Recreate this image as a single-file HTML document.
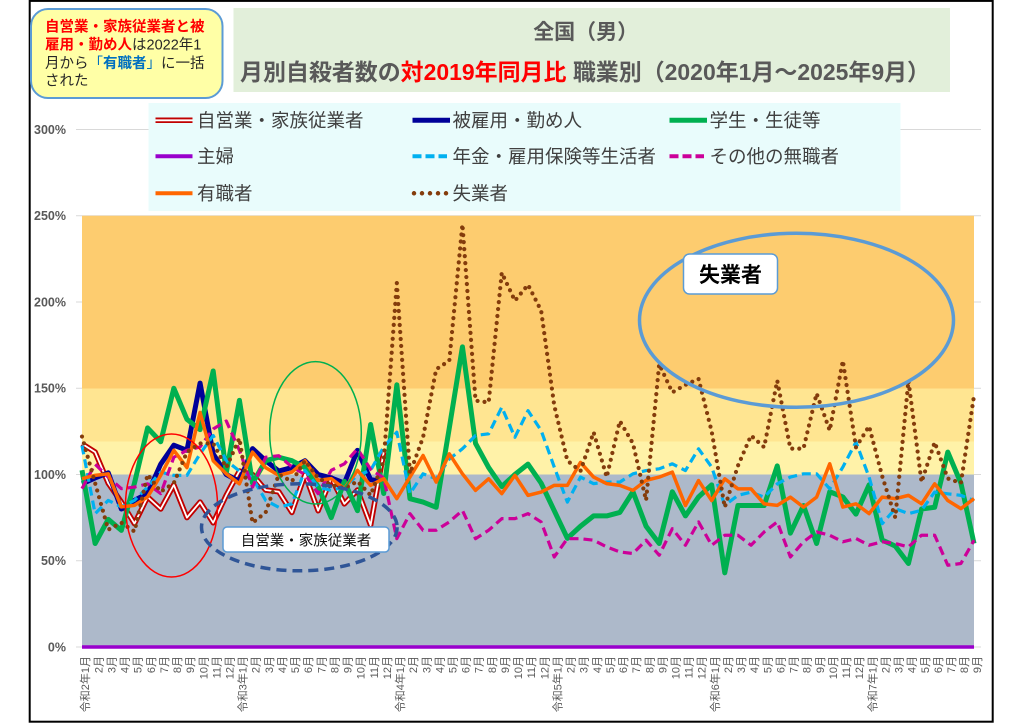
<!DOCTYPE html>
<html><head><meta charset="utf-8"><style>
html,body{margin:0;padding:0;background:#fff;}
svg{display:block;}
text{font-family:"Liberation Sans","Noto Sans CJK JP",sans-serif;}
</style></head><body>
<svg width="1024" height="724" viewBox="0 0 1024 724" xmlns="http://www.w3.org/2000/svg">
<rect x="0" y="0" width="1024" height="724" fill="#fff"/>
<rect x="29.7" y="0.9" width="963" height="720.8" fill="none" stroke="#000" stroke-width="2"/>

<!-- gridlines -->
<g stroke="#D9D9D9" stroke-width="1">
<line x1="76" x2="981" y1="129.5" y2="129.5"/>
<line x1="76" x2="981" y1="215.75" y2="215.75"/>
<line x1="76" x2="981" y1="302" y2="302"/>
<line x1="76" x2="981" y1="388.25" y2="388.25"/>
<line x1="76" x2="981" y1="474.5" y2="474.5"/>
<line x1="76" x2="981" y1="560.75" y2="560.75"/>
<line x1="76" x2="981" y1="647" y2="647"/>
</g>
<!-- bands -->
<rect x="82" y="215.75" width="892" height="172.75" fill="#FDCC6F"/>
<rect x="82" y="388.5" width="892" height="53" fill="#FFE591"/>
<rect x="82" y="441.5" width="892" height="33" fill="#FFF2A8"/>
<rect x="82" y="474.5" width="892" height="172.5" fill="#ADB9CA"/>

<!-- y labels -->
<g font-size="12.5" font-weight="bold" fill="#595959" text-anchor="end">
<text x="66" y="134">300%</text>
<text x="66" y="220.2">250%</text>
<text x="66" y="306.5">200%</text>
<text x="66" y="392.7">150%</text>
<text x="66" y="479">100%</text>
<text x="66" y="565.2">50%</text>
<text x="66" y="651.5">0%</text>
</g>

<!-- data -->
<g transform="matrix(13.118 0 0 -1.725 82 647)" fill="none" stroke-linejoin="round">
<path vector-effect="non-scaling-stroke" stroke="#C00000" stroke-width="5.5" d="M0 117.8 1 113 2 95 3 84 4 71.5 5 87 6 80 7 94 8 75 9 84 10 72 11 88 12 102 13 100 14 91 15 90 16 78 17 100 18 79 19 98 20 83 21 91 22 70.6 23 113"/>
<path vector-effect="non-scaling-stroke" stroke="#fff" stroke-width="1.8" d="M0 117.8 1 113 2 95 3 84 4 71.5 5 87 6 80 7 94 8 75 9 84 10 72 11 88 12 102 13 100 14 91 15 90 16 78 17 100 18 79 19 98 20 83 21 91 22 70.6 23 113"/>
<path vector-effect="non-scaling-stroke" stroke="#000099" stroke-width="5" d="M0 94.6 1 98 2 101 3 80 4 85 5 89 6 106 7 117 8 114 9 153 10 112 11 100 12 96 13 115 14 108 15 102 16 104 17 108 18 100 19 98 20 95 21 114 22 97 23 96"/>
<path vector-effect="non-scaling-stroke" stroke="#00B050" stroke-width="5" d="M0 102.5 1 60 2 74 3 67.6 4 95 5 127 6 119 7 150 8 132 9 126 10 160 11 101 12 143 13 95 14 108 15 110 16 108 17 104 18 93 19 75 20 96 21 79 22 129 23 89 24 152 25 86 26 84 27 81 28 127 29 174 30 118 31 104 32 93 33 100 34 106 35 95 36 79 37 63 38 70 39 76 40 76 41 78 42 90 43 70 44 60 45 90 46 76 47 87 48 94 49 43 50 82 51 82 52 82 53 105 54 66 55 82 56 60 57 90 58 87 59 77 60 94 61 62 62 58.5 63 48.4 64 80 65 81 66 113 67 95 68 60"/>
<path vector-effect="non-scaling-stroke" stroke="#9900CC" stroke-width="3.5" d="M0 0 68 0"/>
<path vector-effect="non-scaling-stroke" stroke="#00B0F0" stroke-width="3.2" stroke-dasharray="9 5" d="M0 116.8 1 77.3 2 85 3 81.2 4 85 5 92.7 6 101.4 7 99.5 8 99.5 9 112 10 122.6 11 108 12 102 13 98 14 85 15 81 16 83 17 102.4 18 92.7 19 90.8 20 92.7 21 99.5 22 102.4 23 116 24 124.5 25 88.9 26 100.4 27 97.5 28 109 29 114.9 30 122.6 31 123.6 32 139 33 121.6 34 137 35 125.5 36 104.3 37 84 38 98.5 39 94.7 40 95.6 41 95.6 42 100.4 43 102.3 44 103.3 45 106.2 46 102.3 47 114.9 48 104.3 49 82.1 50 87.9 51 89.8 52 86.9 53 94.6 54 98.5 55 100.4 56 100.4 57 91.7 58 104.3 59 118.8 60 98.5 61 71.5 62 80.2 63 77.3 64 79.3 65 89.8 66 88.8 67 87.9 68 84.9"/>
<path vector-effect="non-scaling-stroke" stroke="#CC0099" stroke-width="3.2" stroke-dasharray="9 5" d="M0 91.8 1 106 2 98.5 3 91.8 4 92.7 5 94.6 6 88.9 7 110 8 114 9 116 10 126.4 11 131 12 114 13 92.7 14 110 15 110.9 16 104.4 17 100 18 88.9 19 102.4 20 106.2 21 114.9 22 103 23 98 24 62.8 25 77.3 26 67.7 27 67.7 28 72.5 29 79.2 30 62.8 31 67.7 32 74.4 33 74.4 34 77.3 35 72.5 36 52.2 37 62.8 38 62.8 39 61.9 40 58 41 55.1 42 54.2 43 61.9 44 53.2 45 68.6 46 59 47 72.5 48 59 49 64.8 50 64.8 51 59 52 66.7 53 72.5 54 52.2 55 61 56 66.7 57 64.8 58 61 59 62.9 60 59 61 61 62 60 63 58 64 64.8 65 64.8 66 47.4 67 48.4 68 61.9"/>
<path vector-effect="non-scaling-stroke" stroke="#FF6600" stroke-width="3.5" d="M0 97.6 1 99.5 2 100.4 3 81.2 4 82.1 5 87 6 99.5 7 114 8 104 9 136 10 108 11 100.4 12 94.6 13 113 14 104 15 99.5 16 101.4 17 108 18 96.6 19 97.6 20 91.8 21 102.4 22 93.7 23 97.6 24 86 25 98.5 26 111 27 95.6 28 112 29 100.4 30 90.8 31 97.5 32 88.9 33 99.5 34 87.9 35 89.8 36 93.7 37 93.7 38 107 39 98.5 40 94.7 41 93.7 42 90.8 43 96.6 44 98.5 45 101.4 46 82 47 96.5 48 84.9 49 97.5 50 91.7 51 91.7 52 83 53 82.1 54 86.9 55 81.1 56 86.9 57 106.2 58 81.1 59 83 60 77.3 61 86.9 62 86 63 87.9 64 83 65 94.6 66 84.9 67 80.2 68 86"/>
<path vector-effect="non-scaling-stroke" stroke="#843C0C" stroke-width="4.2" stroke-linecap="round" stroke-dasharray="0 7" d="M0 122 1 95 2 68 3 72 4 67 5 100 6 90 7 95 8 113 9 118 10 118 11 104 12 121 13 72 14 78 15 100 16 96 17 108 18 98 19 94 20 92 21 96 22 88 23 108 24 211 25 100.6 26 121.6 27 161 28 166 29 245 30 142.8 31 141.8 32 217 33 200.7 34 210 35 195 36 140 37 108 38 102 39 124.5 40 98.5 41 131 42 118 43 85 44 164 45 147.6 46 152 47 155.4 48 125 49 81 50 105 51 122.6 52 115.8 53 154.4 54 115 55 115 56 147 57 125.5 58 166 59 115.8 60 128 61 99 62 75 63 154.4 64 95.6 65 118.7 66 97.7 67 95 68 145.7"/>
</g>

<!-- annotations -->
<g fill="none">
<ellipse cx="171.5" cy="505.5" rx="46" ry="71.5" stroke="#FF0000" stroke-width="1.5"/>
<ellipse cx="315.5" cy="432.8" rx="45.8" ry="71.2" stroke="#00B050" stroke-width="1.5"/>
<ellipse cx="299.3" cy="527.3" rx="97.8" ry="43.5" stroke="#2F5597" stroke-width="3.5" stroke-dasharray="10 6"/>
<ellipse cx="796.5" cy="320.3" rx="157" ry="87" stroke="#5B9BD5" stroke-width="3.5"/>
</g>
<rect x="223" y="527" width="166" height="25" rx="4" fill="#fff" stroke="#5B9BD5" stroke-width="1.5"/>
<text x="306" y="545.5" text-anchor="middle" font-size="14.5" fill="#111">自営業・家族従業者</text>
<rect x="683.5" y="254" width="94" height="40" rx="6" fill="#fff" stroke="#5B9BD5" stroke-width="1.5"/>
<text x="730.5" y="282" text-anchor="middle" font-size="21" font-weight="bold" fill="#000">失業者</text>

<!-- x labels -->
<g font-size="11" fill="#595959" text-anchor="end">
<text transform="translate(89.2,656) rotate(-90)">令和2年1月</text>
<text transform="translate(102.3,656) rotate(-90)">2月</text>
<text transform="translate(115.4,656) rotate(-90)">3月</text>
<text transform="translate(128.6,656) rotate(-90)">4月</text>
<text transform="translate(141.7,656) rotate(-90)">5月</text>
<text transform="translate(154.8,656) rotate(-90)">6月</text>
<text transform="translate(167.9,656) rotate(-90)">7月</text>
<text transform="translate(181.0,656) rotate(-90)">8月</text>
<text transform="translate(194.1,656) rotate(-90)">9月</text>
<text transform="translate(207.3,656) rotate(-90)">10月</text>
<text transform="translate(220.4,656) rotate(-90)">11月</text>
<text transform="translate(233.5,656) rotate(-90)">12月</text>
<text transform="translate(246.6,656) rotate(-90)">令和3年1月</text>
<text transform="translate(259.7,656) rotate(-90)">2月</text>
<text transform="translate(272.9,656) rotate(-90)">3月</text>
<text transform="translate(286.0,656) rotate(-90)">4月</text>
<text transform="translate(299.1,656) rotate(-90)">5月</text>
<text transform="translate(312.2,656) rotate(-90)">6月</text>
<text transform="translate(325.3,656) rotate(-90)">7月</text>
<text transform="translate(338.4,656) rotate(-90)">8月</text>
<text transform="translate(351.6,656) rotate(-90)">9月</text>
<text transform="translate(364.7,656) rotate(-90)">10月</text>
<text transform="translate(377.8,656) rotate(-90)">11月</text>
<text transform="translate(390.9,656) rotate(-90)">12月</text>
<text transform="translate(404.0,656) rotate(-90)">令和4年1月</text>
<text transform="translate(417.2,656) rotate(-90)">2月</text>
<text transform="translate(430.3,656) rotate(-90)">3月</text>
<text transform="translate(443.4,656) rotate(-90)">4月</text>
<text transform="translate(456.5,656) rotate(-90)">5月</text>
<text transform="translate(469.6,656) rotate(-90)">6月</text>
<text transform="translate(482.7,656) rotate(-90)">7月</text>
<text transform="translate(495.9,656) rotate(-90)">8月</text>
<text transform="translate(509.0,656) rotate(-90)">9月</text>
<text transform="translate(522.1,656) rotate(-90)">10月</text>
<text transform="translate(535.2,656) rotate(-90)">11月</text>
<text transform="translate(548.3,656) rotate(-90)">12月</text>
<text transform="translate(561.4,656) rotate(-90)">令和5年1月</text>
<text transform="translate(574.6,656) rotate(-90)">2月</text>
<text transform="translate(587.7,656) rotate(-90)">3月</text>
<text transform="translate(600.8,656) rotate(-90)">4月</text>
<text transform="translate(613.9,656) rotate(-90)">5月</text>
<text transform="translate(627.0,656) rotate(-90)">6月</text>
<text transform="translate(640.2,656) rotate(-90)">7月</text>
<text transform="translate(653.3,656) rotate(-90)">8月</text>
<text transform="translate(666.4,656) rotate(-90)">9月</text>
<text transform="translate(679.5,656) rotate(-90)">10月</text>
<text transform="translate(692.6,656) rotate(-90)">11月</text>
<text transform="translate(705.7,656) rotate(-90)">12月</text>
<text transform="translate(718.9,656) rotate(-90)">令和6年1月</text>
<text transform="translate(732.0,656) rotate(-90)">2月</text>
<text transform="translate(745.1,656) rotate(-90)">3月</text>
<text transform="translate(758.2,656) rotate(-90)">4月</text>
<text transform="translate(771.3,656) rotate(-90)">5月</text>
<text transform="translate(784.5,656) rotate(-90)">6月</text>
<text transform="translate(797.6,656) rotate(-90)">7月</text>
<text transform="translate(810.7,656) rotate(-90)">8月</text>
<text transform="translate(823.8,656) rotate(-90)">9月</text>
<text transform="translate(836.9,656) rotate(-90)">10月</text>
<text transform="translate(850.0,656) rotate(-90)">11月</text>
<text transform="translate(863.2,656) rotate(-90)">12月</text>
<text transform="translate(876.3,656) rotate(-90)">令和7年1月</text>
<text transform="translate(889.4,656) rotate(-90)">2月</text>
<text transform="translate(902.5,656) rotate(-90)">3月</text>
<text transform="translate(915.6,656) rotate(-90)">4月</text>
<text transform="translate(928.8,656) rotate(-90)">5月</text>
<text transform="translate(941.9,656) rotate(-90)">6月</text>
<text transform="translate(955.0,656) rotate(-90)">7月</text>
<text transform="translate(968.1,656) rotate(-90)">8月</text>
<text transform="translate(981.2,656) rotate(-90)">9月</text>
</g>

<!-- legend -->
<rect x="148.5" y="103" width="752" height="108" fill="#E9FCFC"/>
<g fill="none">
<line x1="155.5" x2="192.5" y1="120.3" y2="120.3" stroke="#C00000" stroke-width="5.5"/>
<line x1="155.5" x2="192.5" y1="120.3" y2="120.3" stroke="#fff" stroke-width="1.8"/>
<line x1="412.5" x2="450" y1="120.3" y2="120.3" stroke="#000099" stroke-width="5"/>
<line x1="669.5" x2="707" y1="120.3" y2="120.3" stroke="#00B050" stroke-width="5"/>
<line x1="155.5" x2="192.5" y1="156.3" y2="156.3" stroke="#9900CC" stroke-width="4"/>
<line x1="412.5" x2="447" y1="156.3" y2="156.3" stroke="#00B0F0" stroke-width="4" stroke-dasharray="9 4"/>
<line x1="669.5" x2="704" y1="156.3" y2="156.3" stroke="#CC0099" stroke-width="4" stroke-dasharray="9 4"/>
<line x1="155.5" x2="192.5" y1="193.3" y2="193.3" stroke="#FF6600" stroke-width="4"/>
<line x1="414" x2="450" y1="193.3" y2="193.3" stroke="#843C0C" stroke-width="4.5" stroke-linecap="round" stroke-dasharray="0 8"/>
</g>
<g font-size="18.5" fill="#404040">
<text x="197" y="127">自営業・家族従業者</text>
<text x="452.5" y="127">被雇用・勤め人</text>
<text x="709.5" y="127">学生・生徒等</text>
<text x="197" y="163">主婦</text>
<text x="452.5" y="163">年金・雇用保険等生活者</text>
<text x="709.5" y="163">その他の無職者</text>
<text x="197" y="200">有職者</text>
<text x="452.5" y="200">失業者</text>
</g>

<!-- note box -->
<rect x="31" y="9" width="191.5" height="89" rx="17" fill="#FFFFA6" stroke="#5B9BD5" stroke-width="2"/>
<g font-size="14.5" fill="#262626">
<text x="45" y="31.5" fill="#FF0000" font-weight="bold">自営業・家族従業者と被</text>
<text x="45" y="49.5"><tspan fill="#FF0000" font-weight="bold">雇用・勤め人</tspan>は2022年1</text>
<text x="45" y="68">月から<tspan fill="#0070C0">「</tspan><tspan fill="#0070C0" font-weight="bold">有職者</tspan><tspan fill="#0070C0">」</tspan>に一括</text>
<text x="45" y="85.5">された</text>
</g>

<!-- title -->
<rect x="233.5" y="8" width="716.5" height="84" fill="#E2EFDA"/>
<text x="585.7" y="39" text-anchor="middle" font-size="21" font-weight="bold" fill="#595959">全国（男）</text>
<text x="240" y="80" font-size="23" font-weight="bold" fill="#595959" textLength="690" lengthAdjust="spacingAndGlyphs">月別自殺者数の<tspan fill="#FF0000">対2019年同月比</tspan> 職業別（2020年1月～2025年9月）</text>
</svg>
</body></html>
